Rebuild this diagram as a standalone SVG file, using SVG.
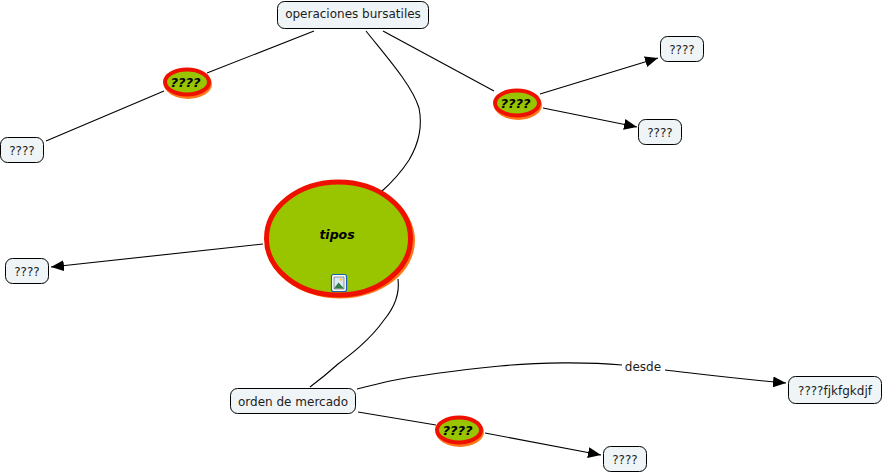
<svg xmlns="http://www.w3.org/2000/svg" width="883" height="473" viewBox="0 0 883 473">
<style>
.box{fill:#eff4f7;stroke:#000;stroke-width:1}
.t{font-family:"DejaVu Sans",Verdana,sans-serif;font-size:12px;fill:#1c1c1c;text-anchor:middle}
.b{font-family:"DejaVu Sans",Verdana,sans-serif;font-size:13px;font-weight:bold;font-style:italic;fill:#000;text-anchor:middle}
.sh{fill:#ff6a00;stroke:none;opacity:.9}
.el{fill:#99c400;stroke:#ee1100}
.c{fill:none;stroke:#000;stroke-width:1.1}
</style>
<defs>
<marker id="arr" markerUnits="userSpaceOnUse" markerWidth="16" markerHeight="12" refX="13" refY="5.5" orient="auto"><path d="M0 0L13 5.5L0 11z" fill="#000"/></marker>
</defs>
<rect width="883" height="473" fill="#fff"/>
<g id="connectors">
<path class="c" d="M314 31L207 73M164 91L46 141"/>
<path class="c" d="M366 31C385 55 412 85 419 108C423 128 418 145 409 160C400 174 390 184 381 192"/>
<path class="c" d="M383 31L494 91"/>
<path class="c" d="M540 94L658 58" marker-end="url(#arr)"/>
<path class="c" d="M543 108L637 127" marker-end="url(#arr)"/>
<path class="c" d="M263 244L51 267" marker-end="url(#arr)"/>
<path class="c" d="M398 279C400 295 394 308 384 320C370 340 350 355 338 364C327 374 318 381 310 387"/>
<path class="c" d="M357 389C372 385 378 384 390 381C420 375 460 370 500 366C540 362 590 362 622 365"/>
<path class="c" d="M665 370C700 374 740 379 786 383" marker-end="url(#arr)"/>
<path class="c" d="M358 412L436 425"/>
<path class="c" d="M485 433L601 455" marker-end="url(#arr)"/>
</g>
<g id="n-operaciones"><rect class="box" x="277.5" y="1.5" width="151" height="27" rx="7"/><text class="t" x="353" y="18">operaciones bursatiles</text></g>
<g id="n-q1"><rect class="box" x="0.5" y="137.5" width="43" height="25" rx="7"/><text class="t" x="22" y="154.500">????</text></g>
<g id="n-q2"><rect class="box" x="660.500" y="36.500" width="43" height="25" rx="7"/><text class="t" x="682" y="53.500">????</text></g>
<g id="n-q3"><rect class="box" x="638.500" y="119.500" width="43" height="25" rx="7"/><text class="t" x="660" y="136.500">????</text></g>
<g id="n-q4"><rect class="box" x="5.500" y="258.500" width="43" height="25" rx="7"/><text class="t" x="27" y="275.500">????</text></g>
<g id="n-orden"><rect class="box" x="230.500" y="388.500" width="125" height="25" rx="7"/><text class="t" x="293" y="405.500">orden de mercado</text></g>
<g id="n-fjk"><rect class="box" x="788.500" y="376.500" width="93" height="27" rx="7"/><text class="t" x="835" y="394.500">????fjkfgkdjf</text></g>
<g id="n-q5"><rect class="box" x="603.500" y="446.500" width="43" height="25" rx="7"/><text class="t" x="625" y="463.500">????</text></g>
<g id="n-e1"><ellipse class="sh" cx="188" cy="84" rx="24" ry="15"/><ellipse class="el" cx="187" cy="82" rx="22" ry="12.500" stroke-width="4"/><text class="b" x="185.500" y="87">????</text></g>
<g id="n-e2"><ellipse class="sh" cx="518" cy="105" rx="24" ry="15"/><ellipse class="el" cx="517" cy="103" rx="22" ry="12.500" stroke-width="4"/><text class="b" x="515.500" y="108">????</text></g>
<g id="n-e3"><ellipse class="sh" cx="460" cy="432" rx="24" ry="15"/><ellipse class="el" cx="459" cy="430" rx="22" ry="12.500" stroke-width="4"/><text class="b" x="457.500" y="435">????</text></g>
<g id="n-tipos"><ellipse class="sh" cx="340" cy="240.500" rx="75" ry="58"/><ellipse class="el" cx="338.500" cy="238.500" rx="72" ry="56.500" stroke-width="5"/><text class="b" x="337" y="239" style="font-size:12.500px">tipos</text>
<rect x="331.500" y="274.500" width="15" height="17" rx="2" fill="#fff" stroke="#1a5fb4" stroke-width="1.2"/><rect x="334" y="277" width="10" height="12" fill="#dbe8f5" stroke="#333" stroke-width=".5"/><circle cx="341" cy="279.500" r="1.500" fill="#f2d24b"/><path d="M334 288.500L338.500 282.500L344 288.500z" fill="#2e7d46"/></g>
<text id="label-desde" x="643" y="371" style="font-family:'DejaVu Sans',Verdana,sans-serif;font-size:12px;fill:#1c1c1c;text-anchor:middle">desde</text>
</svg>
